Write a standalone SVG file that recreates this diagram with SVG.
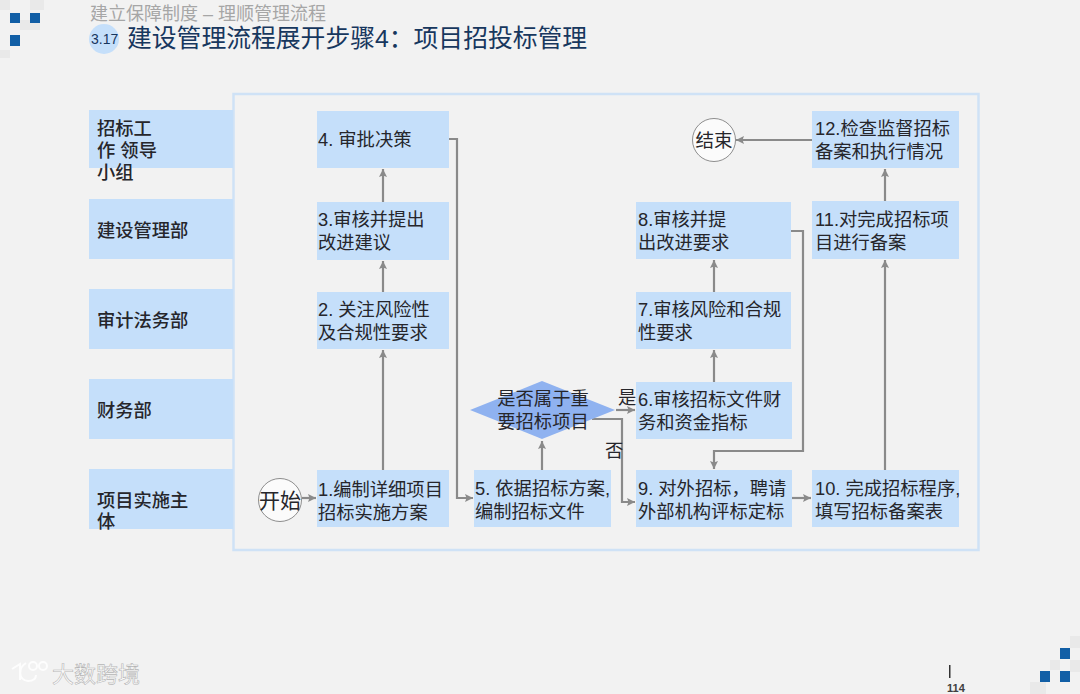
<svg xmlns="http://www.w3.org/2000/svg" width="1080" height="694" viewBox="0 0 1080 694">
<defs>
<marker id="arr" markerUnits="userSpaceOnUse" markerWidth="10" markerHeight="10" refX="8" refY="4" orient="auto"><path d="M0 0L8 4L0 8L1.5 4Z" fill="#8a8a8a"/></marker>
</defs>
<style>
text{font-family:"Liberation Sans","Noto Sans CJK SC",sans-serif;fill:#26262b}
.lane{fill:#c5dffa}
.box{fill:#c5dffa}
.t{font-size:18.3px}
.b{font-size:18.3px;font-weight:500}
.c{fill:none;stroke:#8a8a8a;stroke-width:2.2;marker-end:url(#arr)}
.g{fill:#e9e9e9}
.s{fill:#125fa6}
.o{fill:#fbfbfb;stroke:#8e8e8e;stroke-width:1}
</style>
<rect width="1080" height="694" fill="#f2f2f2"/>
<g id="corner-top">
<rect class="g" x="0" y="0" width="10" height="10"/><rect class="g" x="30" y="0" width="14" height="10"/><rect class="g" x="20" y="20" width="20" height="10"/><rect class="g" x="0" y="50" width="10" height="8"/>
<rect class="s" x="10" y="13" width="10" height="10"/><rect class="s" x="30" y="13" width="10" height="10"/><rect class="s" x="10" y="35" width="10" height="11"/>
</g>
<g id="corner-bottom">
<rect class="g" x="1070" y="636" width="10" height="12"/><rect class="g" x="1050" y="660" width="10" height="10"/><rect class="g" x="1030" y="682" width="16" height="12"/><rect class="g" x="1070" y="660" width="10" height="12"/>
<rect class="s" x="1060" y="648" width="10" height="11"/><rect class="s" x="1040" y="671" width="10" height="11"/><rect class="s" x="1060" y="671" width="10" height="11"/>
</g>
<g id="title">
<text x="90" y="20" font-size="18" style="fill:#a6a6a6">建立保障制度 – 理顺管理流程</text>
<circle cx="104" cy="39" r="15" fill="#c5dffa"/>
<text x="91" y="44" font-size="14" style="fill:#17365d">3.17</text>
<text x="127" y="47" font-size="24.800" style="fill:#17375e">建设管理流程展开步骤4：项目招投标管理</text>
</g>
<rect id="frame" x="233.500" y="94" width="745" height="456" fill="none" stroke="#cfe2f6" stroke-width="2.500"/>
<g id="lane-1"><rect class="lane" x="89" y="110" width="144" height="58"/><text class="b" x="97" y="135">招标工</text><text class="b" x="97" y="157">作  领导</text><text class="b" x="97" y="179">小组</text></g>
<g id="lane-2"><rect class="lane" x="89" y="199" width="144" height="60"/><text class="b" x="97" y="237">建设管理部</text></g>
<g id="lane-3"><rect class="lane" x="89" y="289" width="144" height="60"/><text class="b" x="97" y="327">审计法务部</text></g>
<g id="lane-4"><rect class="lane" x="89" y="379" width="144" height="60"/><text class="b" x="97" y="417">财务部</text></g>
<g id="lane-5"><rect class="lane" x="89" y="469" width="144" height="60"/><text class="b" x="97" y="507">项目实施主</text><text class="b" x="97" y="528">体</text></g>
<g id="connectors">
<path class="c" d="M302 498H316"/>
<path class="c" d="M383 470V350"/>
<path class="c" d="M383 292V261"/>
<path class="c" d="M383 202V169"/>
<path class="c" d="M449 139H457V498H473"/>
<path class="c" d="M542 470V441"/>
<path class="c" d="M616 410H635"/>
<path class="c" d="M592 419H622V502H635"/>
<path class="c" d="M714 382V350"/>
<path class="c" d="M714 292V260"/>
<path class="c" d="M791 231H803V451H714V469"/>
<path class="c" d="M792 498H811"/>
<path class="c" d="M885 470V260"/>
<path class="c" d="M885 201V169"/>
<path class="c" d="M812 140H736"/>
</g>
<g id="start"><circle class="o" cx="280" cy="500" r="21.500"/><text x="280" y="508" text-anchor="middle" font-size="21">开始</text></g>
<g id="end"><circle class="o" cx="714" cy="140" r="21.500"/><text x="714" y="147" text-anchor="middle" font-size="18.500">结束</text></g>
<g id="n4"><rect class="box" x="317" y="111" width="132" height="57"/><text class="t" x="318" y="146">4. 审批决策</text></g>
<g id="n3"><rect class="box" x="317" y="202" width="132" height="58"/><text class="t" x="318" y="226">3.审核并提出</text><text class="t" x="318" y="249">改进建议</text></g>
<g id="n2"><rect class="box" x="317" y="292" width="132" height="57"/><text class="t" x="318" y="316">2. 关注风险性</text><text class="t" x="318" y="339">及合规性要求</text></g>
<g id="n1"><rect class="box" x="317" y="470" width="132" height="57"/><text class="t" x="318" y="496">1.编制详细项目</text><text class="t" x="318" y="519">招标实施方案</text></g>
<g id="n5"><rect class="box" x="474" y="470" width="137" height="57"/><text class="t" x="475" y="495">5. 依据招标方案,</text><text class="t" x="475" y="518">编制招标文件</text></g>
<g id="d"><polygon points="470,410 542,381 615,410 542,439" fill="#8fb2f0"/><text class="t" x="543" y="405" text-anchor="middle">是否属于重</text><text class="t" x="543" y="428" text-anchor="middle">要招标项目</text></g>
<g id="n6"><rect class="box" x="636" y="382" width="156" height="57"/><text class="t" x="638" y="406">6.审核招标文件财</text><text class="t" x="638" y="429">务和资金指标</text></g>
<g id="n7"><rect class="box" x="636" y="292" width="155" height="57"/><text class="t" x="638" y="316">7.审核风险和合规</text><text class="t" x="638" y="339">性要求</text></g>
<g id="n8"><rect class="box" x="636" y="202" width="155" height="57"/><text class="t" x="638" y="226">8.审核并提</text><text class="t" x="638" y="249">出改进要求</text></g>
<g id="n9"><rect class="box" x="636" y="470" width="156" height="57"/><text class="t" x="638" y="495">9. 对外招标，聘请</text><text class="t" x="638" y="518">外部机构评标定标</text></g>
<g id="n10"><rect class="box" x="812" y="470" width="147" height="57"/><text class="t" x="815" y="495">10. 完成招标程序,</text><text class="t" x="815" y="518">填写招标备案表</text></g>
<g id="n11"><rect class="box" x="812" y="201" width="147" height="58"/><text class="t" x="815" y="226">11.对完成招标项</text><text class="t" x="815" y="249">目进行备案</text></g>
<g id="n12"><rect class="box" x="812" y="111" width="147" height="57"/><text class="t" x="815" y="135">12.检查监督招标</text><text class="t" x="815" y="158">备案和执行情况</text></g>
<text class="t" x="618" y="404">是</text>
<text class="t" x="605" y="457">否</text>
<g id="footer">
<rect x="949" y="665" width="1.500" height="13" fill="#333"/>
<text x="947" y="692" font-size="11" font-weight="700" style="fill:#404040">114</text>
<text x="52" y="682" font-size="22" style="fill:#fdfdfd;stroke:#b5b5b5;stroke-width:.6">大数跨境</text>
<g fill="none" stroke="#fdfdfd" stroke-width="2">
<path d="M12 669L20 664V680M26 663C18 668 18 680 28 681C34 681 36 678 36 675"/>
<circle cx="33" cy="666" r="4"/><circle cx="43" cy="666" r="4"/>
</g>
</g>
</svg>
